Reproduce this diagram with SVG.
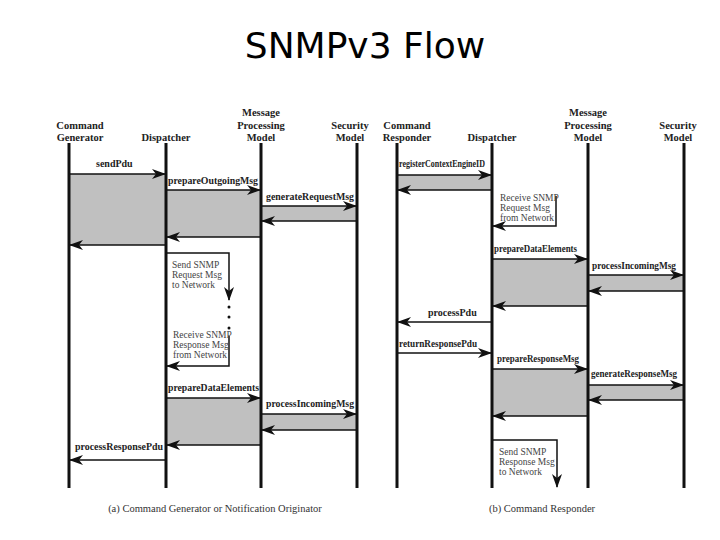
<svg xmlns="http://www.w3.org/2000/svg" width="720" height="540" viewBox="0 0 720 540">
<style>
.t{font-family:"Liberation Serif",serif;font-weight:bold;font-size:10px;fill:#222}
.h{font-family:"Liberation Serif",serif;font-weight:bold;font-size:10.5px;fill:#222;text-anchor:middle}
.n{font-family:"Liberation Serif",serif;font-size:9.5px;fill:#444}
.c{font-family:"Liberation Serif",serif;font-size:10.5px;fill:#333;text-anchor:middle}
.l{stroke:#111;stroke-width:3}
.a{stroke:#111;stroke-width:1.5;fill:none;marker-end:url(#ar)}
.g{fill:#c0c0c0}
</style>
<defs><marker id="ar" markerWidth="14" markerHeight="10" refX="13" refY="5" orient="auto" markerUnits="userSpaceOnUse"><path d="M0,0 L14,5 L0,10 L4,5 Z" fill="#111"/></marker></defs>
<rect width="720" height="540" fill="#fff"/>
<text x="365" y="58" font-family="'Comic Sans MS','DejaVu Sans',sans-serif" font-size="36" text-anchor="middle" fill="#000">SNMPv3 Flow</text>
<g id="shading">
<rect class="g" x="69" y="174" width="97" height="71"/>
<rect class="g" x="166" y="190" width="95" height="47"/>
<rect class="g" x="261" y="206" width="96" height="15"/>
<rect class="g" x="166" y="398" width="95" height="47"/>
<rect class="g" x="261" y="414" width="96" height="16"/>
<rect class="g" x="397" y="175" width="95" height="15"/>
<rect class="g" x="492" y="259" width="96" height="47"/>
<rect class="g" x="588" y="275" width="96" height="16"/>
<rect class="g" x="492" y="369" width="96" height="47"/>
<rect class="g" x="588" y="385" width="96" height="15"/>
</g>
<g id="headers">
<text class="h" x="80" y="129">Command</text><text class="h" x="80" y="141">Generator</text>
<text class="h" x="166" y="141">Dispatcher</text>
<text class="h" x="261" y="116">Message</text><text class="h" x="261" y="129">Processing</text><text class="h" x="261" y="141">Model</text>
<text class="h" x="350" y="129">Security</text><text class="h" x="350" y="141">Model</text>
<text class="h" x="407" y="129">Command</text><text class="h" x="407" y="141">Responder</text>
<text class="h" x="492" y="141">Dispatcher</text>
<text class="h" x="588" y="116">Message</text><text class="h" x="588" y="129">Processing</text><text class="h" x="588" y="141">Model</text>
<text class="h" x="678" y="129">Security</text><text class="h" x="678" y="141">Model</text>
</g>
<g id="lifelines">
<line class="l" x1="69" y1="143" x2="69" y2="488"/>
<line class="l" x1="166" y1="143" x2="166" y2="488"/>
<line class="l" x1="261" y1="143" x2="261" y2="488"/>
<line class="l" x1="357" y1="143" x2="357" y2="488"/>
<line class="l" x1="397" y1="143" x2="397" y2="488"/>
<line class="l" x1="492" y1="143" x2="492" y2="488"/>
<line class="l" x1="588" y1="143" x2="588" y2="488"/>
<line class="l" x1="684" y1="143" x2="684" y2="488"/>
</g>
<g id="connectors">
<line class="a" x1="70" y1="174" x2="165" y2="174"/>
<line class="a" x1="167" y1="190" x2="260" y2="190"/>
<line class="a" x1="262" y1="206" x2="356" y2="206"/>
<line class="a" x1="356" y1="221" x2="262" y2="221"/>
<line class="a" x1="260" y1="237" x2="167" y2="237"/>
<line class="a" x1="165" y1="245" x2="70" y2="245"/>
<path class="a" d="M167,253 H229 V300"/>
<path class="a" d="M229,336 V366 H167"/>
<line class="a" x1="167" y1="398" x2="260" y2="398"/>
<line class="a" x1="262" y1="414" x2="356" y2="414"/>
<line class="a" x1="356" y1="430" x2="262" y2="430"/>
<line class="a" x1="260" y1="445" x2="167" y2="445"/>
<line class="a" x1="165" y1="460" x2="70" y2="460"/>
<line class="a" x1="398" y1="175" x2="491" y2="175"/>
<line class="a" x1="491" y1="190" x2="398" y2="190"/>
<path class="a" d="M556,196 V226 H493"/>
<line class="a" x1="493" y1="259" x2="587" y2="259"/>
<line class="a" x1="589" y1="275" x2="683" y2="275"/>
<line class="a" x1="683" y1="291" x2="589" y2="291"/>
<line class="a" x1="587" y1="306" x2="493" y2="306"/>
<line class="a" x1="491" y1="322" x2="398" y2="322"/>
<line class="a" x1="398" y1="353" x2="491" y2="353"/>
<line class="a" x1="493" y1="369" x2="587" y2="369"/>
<line class="a" x1="589" y1="385" x2="683" y2="385"/>
<line class="a" x1="683" y1="400" x2="589" y2="400"/>
<line class="a" x1="587" y1="416" x2="493" y2="416"/>
<path class="a" d="M493,440 H557 V487"/>
<circle cx="229" cy="307" r="1.5" fill="#111"/><circle cx="229" cy="317" r="1.5" fill="#111"/><circle cx="229" cy="328" r="1.5" fill="#111"/>
</g>
<g id="labels">
<text class="t" x="96" y="167">sendPdu</text>
<text class="t" x="168" y="184" textLength="90" lengthAdjust="spacingAndGlyphs">prepareOutgoingMsg</text>
<text class="t" x="266" y="200" textLength="88" lengthAdjust="spacingAndGlyphs">generateRequestMsg</text>
<text class="n" x="172" y="268">Send SNMP</text><text class="n" x="172" y="278">Request Msg</text><text class="n" x="172" y="288">to Network</text>
<text class="n" x="173" y="338">Receive SNMP</text><text class="n" x="173" y="348">Response Msg</text><text class="n" x="173" y="358">from Network</text>
<text class="t" x="168" y="391" textLength="91" lengthAdjust="spacingAndGlyphs">prepareDataElements</text>
<text class="t" x="266" y="407" textLength="88" lengthAdjust="spacingAndGlyphs">processIncomingMsg</text>
<text class="t" x="75" y="450" textLength="88" lengthAdjust="spacingAndGlyphs">processResponsePdu</text>
<text class="t" x="399" y="167" font-size="8" textLength="86" lengthAdjust="spacingAndGlyphs">registerContextEngineID</text>
<text class="n" x="500" y="201">Receive SNMP</text><text class="n" x="500" y="211">Request Msg</text><text class="n" x="500" y="221">from Network</text>
<text class="t" x="494" y="252" font-size="9" textLength="83" lengthAdjust="spacingAndGlyphs">prepareDataElements</text>
<text class="t" x="592" y="269" font-size="9" textLength="84" lengthAdjust="spacingAndGlyphs">processIncomingMsg</text>
<text class="t" x="428" y="316" font-size="9">processPdu</text>
<text class="t" x="399" y="347" font-size="9" textLength="78" lengthAdjust="spacingAndGlyphs">returnResponsePdu</text>
<text class="t" x="497" y="362" font-size="9" textLength="82" lengthAdjust="spacingAndGlyphs">prepareResponseMsg</text>
<text class="t" x="591" y="377" font-size="9" textLength="86" lengthAdjust="spacingAndGlyphs">generateResponseMsg</text>
<text class="n" x="499" y="455">Send SNMP</text><text class="n" x="499" y="465">Response Msg</text><text class="n" x="499" y="475">to Network</text>
</g>
<text class="c" x="215" y="512">(a) Command Generator or Notification Originator</text>
<text class="c" x="542" y="512">(b) Command Responder</text>
</svg>
